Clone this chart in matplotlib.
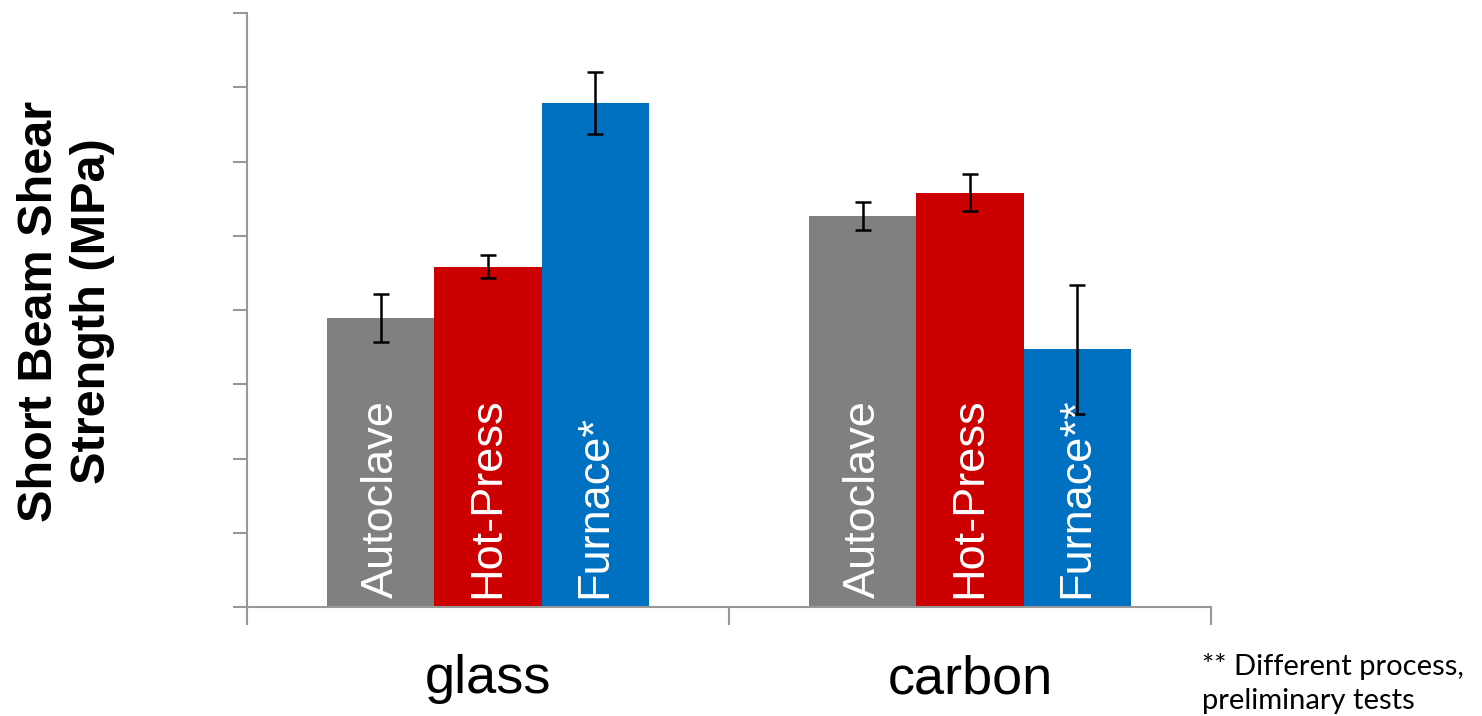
import numpy as np
import matplotlib
matplotlib.use("Agg")
import matplotlib.pyplot as plt

# values (units = one y tick interval)
materials = ["glass", "carbon"]
processes = ["Autoclave", "Hot-Press", "Furnace"]
bar_labels = [["Autoclave", "Hot-Press", "Furnace*"],
              ["Autoclave", "Hot-Press", "Furnace**"]]
autoclave = [3.89, 5.27]
hot_press = [4.58, 5.58]
furnace = [6.79, 3.47]
autoclave_err = [0.32, 0.19]
hot_press_err = [0.155, 0.25]
furnace_err = [0.42, 0.87]
footnote = ["** Different process,", "preliminary tests"]

COLORS = ["#808080", "#CC0000", "#0070C0"]
AXIS = "#989898"

fig = plt.figure(figsize=(14.82, 7.16), dpi=100)
ax = fig.add_axes([247 / 1482, 1 - 607 / 716, (1211 - 247) / 1482, (607 - 13) / 716])

x = np.arange(len(materials))
w = 0.222
series = [(autoclave, autoclave_err), (hot_press, hot_press_err), (furnace, furnace_err)]
for i, (vals, errs) in enumerate(series):
    pos = x + (i - 1) * w
    ax.bar(pos, vals, w, color=COLORS[i], yerr=errs, capsize=5.5,
           error_kw=dict(lw=1.8, capthick=1.8, ecolor="black"), zorder=2)
    for j, p in enumerate(pos):
        ax.text(p, 0.125, bar_labels[j][i], rotation=90, ha="center", va="bottom",
                color="white", fontsize=32.5, family="Liberation Sans", zorder=3)

ax.set_xlim(-0.5, 1.5)
ax.set_ylim(0, 8)
ax.set_yticks(np.arange(0, 9))
ax.set_yticklabels([])
ax.tick_params(axis="y", direction="out", length=10, width=1.5, color=AXIS)

ax.set_xticks([-0.5, 0.5, 1.5])
ax.set_xticklabels([])
ax.tick_params(axis="x", which="major", direction="out", length=13, width=1.5, color=AXIS)
ax.set_xticks(x, minor=True)
ax.set_xticklabels(materials, minor=True, fontsize=39, family="Liberation Sans")
ax.tick_params(axis="x", which="minor", length=0, pad=34)

for s in ["top", "right"]:
    ax.spines[s].set_visible(False)
for s in ["left", "bottom"]:
    ax.spines[s].set_color(AXIS)
    ax.spines[s].set_linewidth(1.5)

fig.text(66 / 1482, 1 - 311 / 716, "Short Beam Shear\nStrength (MPa)", rotation=90,
         ha="center", va="center", fontsize=35, fontweight="bold",
         family="Liberation Sans", linespacing=1.25)

fig.text(1202 / 1482, 1 - 675 / 716, footnote[0], fontsize=21, family="Lato", va="baseline")
fig.text(1202 / 1482, 1 - 709 / 716, footnote[1], fontsize=21, family="Lato", va="baseline")

fig.savefig("out.png", dpi=100)
